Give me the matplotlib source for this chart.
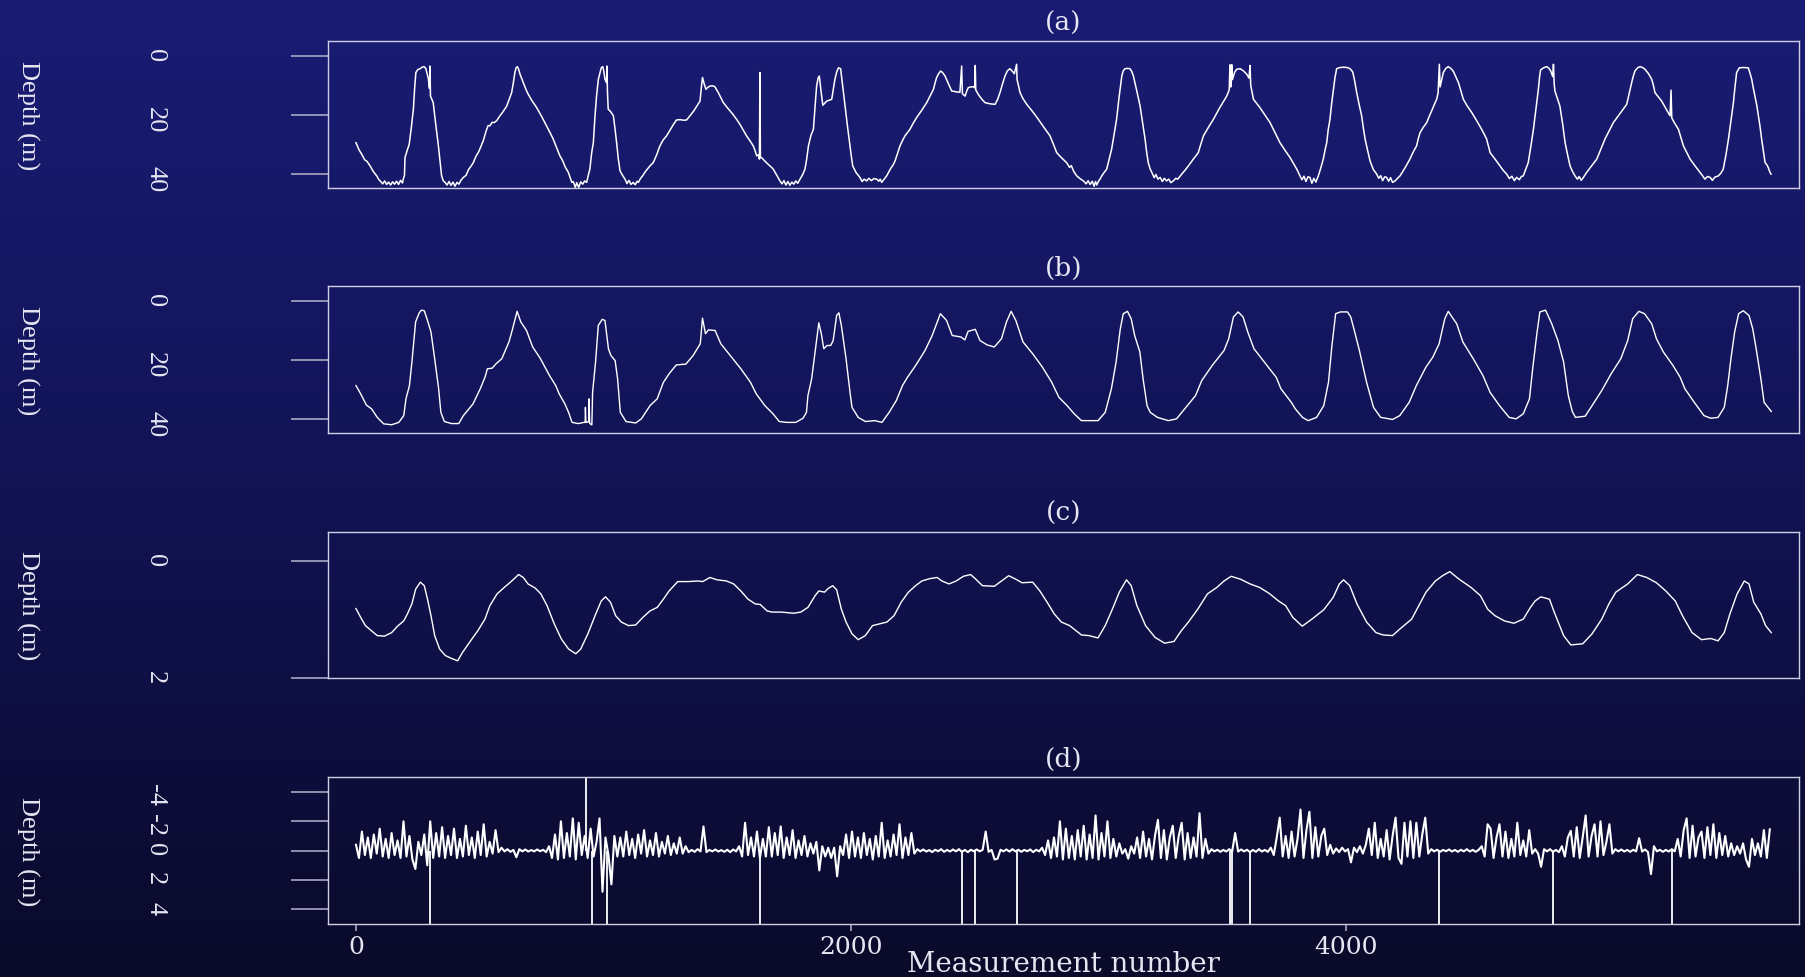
import numpy as np
import matplotlib.pyplot as plt
from matplotlib.colors import LinearSegmentedColormap

plt.rcParams['font.family'] = 'DejaVu Serif'

raw_pts = [
    (0, 29.4), (12, 31.8), (23, 33.3), (35, 35.2), (45, 35.8), (57, 37.3), (70, 39.2), (84, 40.7), (92, 41.9),
    (100, 42.6), (108, 43.4), (116, 42.4), (124, 43.6), (132, 42.8), (140, 43.8), (148, 42.7), (156, 43.5),
    (164, 42.5), (172, 43.6), (180, 42.2), (188, 43.1), (191, 41.8), (196, 40.5), (198, 34.5), (207, 32),
    (215, 30), (224, 24), (232, 18), (237, 11), (242, 5.6), (250, 4.6), (259, 4.3), (267, 3.8), (275, 3.6),
    (282, 4.2), (288, 6.2), (292, 7.5), (297, 11), (299, 3.4), (301, 13.6), (312, 15.8), (322, 23), (333, 30.5),
    (340, 36), (346, 40.7), (353, 42.4), (360, 42.9), (368, 43.8), (376, 42.6), (384, 43.9), (392, 42.8),
    (400, 44.2), (408, 42.9), (416, 43.5), (424, 42.2), (434, 41.2), (445, 40.5), (455, 38.5), (465, 37.4),
    (474, 36.2), (485, 34), (496, 32.5), (508, 30), (515, 28.6), (522, 26.5), (528, 24.9), (534, 23.6),
    (541, 23.7), (550, 22.5), (558, 22.6), (568, 22), (580, 20.5), (595, 18.8), (609, 17), (620, 14.5),
    (629, 12.4), (636, 9), (642, 5.6), (647, 4), (652, 3.6), (657, 4.5), (663, 6.2), (675, 8.8), (686, 11.2),
    (696, 13), (712, 15.3), (730, 17.5), (750, 20.5), (770, 23.7), (784, 26), (797, 28.2), (810, 31),
    (824, 33.9), (835, 35.5), (845, 37.6), (858, 39.5), (866, 41.5), (872, 42.9), (878, 42.6), (886, 44.6),
    (892, 43), (900, 44.6), (908, 42.7), (916, 43.5), (924, 42.4), (932, 42.9), (940, 40), (945, 38.4),
    (952, 33), (959, 29.4), (966, 20), (972, 13.6), (979, 8), (986, 5.6), (991, 4), (997, 3.6), (1001, 5),
    (1006, 7.9), (1012, 9), (1014, 3.4), (1016, 12), (1019, 18), (1030, 19), (1040, 20.3), (1047, 25),
    (1053, 29.4), (1060, 35), (1067, 39), (1077, 40.5), (1087, 41.8), (1095, 43.3), (1103, 42.2), (1111, 43.6),
    (1120, 42.9), (1128, 43.7), (1136, 42.5), (1141, 42.9), (1150, 41.5), (1158, 40.7), (1167, 39.5),
    (1178, 38.3), (1190, 37.1), (1201, 36.2), (1215, 33.5), (1228, 30.5), (1241, 28.5), (1255, 27.1),
    (1270, 25), (1282, 23.3), (1295, 21.7), (1310, 21.6), (1324, 21.8), (1336, 21.7), (1350, 20.2),
    (1365, 18.6), (1380, 16.6), (1390, 15.3), (1395, 11), (1400, 7.3), (1407, 9.5), (1414, 11.3), (1422, 10.6),
    (1430, 10.2), (1440, 10.1), (1450, 10.4), (1465, 12.6), (1484, 15.8), (1500, 17.5), (1520, 19.5),
    (1538, 21.5), (1552, 23.3), (1565, 25.2), (1578, 27.1), (1592, 28.8), (1605, 30.5), (1612, 32),
    (1619, 33.9), (1626, 33.5), (1630, 35), (1632, 5.6), (1634, 34.5), (1639, 34.5), (1650, 35.5),
    (1662, 36.5), (1675, 37.5), (1686, 38.4), (1700, 40.5), (1713, 42.4), (1721, 43.4), (1729, 42.3),
    (1737, 43.8), (1745, 42.6), (1753, 43.9), (1761, 42.8), (1769, 43.5), (1777, 42.4), (1785, 43.2),
    (1794, 41.8), (1805, 40.2), (1814, 38.4), (1821, 35), (1828, 30.5), (1838, 27), (1848, 24.9), (1855, 17),
    (1861, 10.2), (1867, 7.5), (1872, 6.8), (1879, 12), (1886, 16.7), (1894, 16), (1902, 15.3), (1912, 15),
    (1922, 14.7), (1928, 11.5), (1935, 7.9), (1942, 5.5), (1949, 4), (1958, 4.3), (1966, 10), (1976, 17),
    (1986, 24), (1996, 30.5), (2002, 34.5), (2007, 37.3), (2020, 39.5), (2036, 41.2), (2045, 42.6),
    (2053, 41.8), (2063, 42.4), (2072, 41.5), (2082, 42.3), (2093, 41.6), (2104, 41.8), (2112, 42.5),
    (2118, 41.8), (2124, 42.9), (2134, 41.8), (2144, 40.7), (2160, 38.2), (2170, 37), (2178, 35.6),
    (2188, 33), (2198, 30.5), (2208, 28.7), (2218, 27.1), (2228, 26), (2238, 24.9), (2250, 23), (2265, 20.9),
    (2285, 18.5), (2306, 15.8), (2320, 13.5), (2333, 11.3), (2340, 9), (2346, 7.3), (2354, 6), (2362, 5.1),
    (2370, 5.6), (2380, 6.8), (2394, 9.5), (2407, 11.9), (2417, 12), (2427, 12.2), (2440, 12.3), (2447, 3.4),
    (2450, 12.8), (2461, 13.6), (2467, 12), (2474, 10.7), (2484, 10.5), (2494, 10.4), (2500, 10.8),
    (2502, 3.2), (2504, 11.5), (2514, 13), (2528, 14.6), (2541, 15.8), (2560, 16.2), (2582, 16.4),
    (2592, 14.8), (2602, 12.4), (2612, 9.5), (2622, 6.8), (2632, 5), (2642, 4.3), (2650, 5), (2660, 6),
    (2669, 2.8), (2671, 8), (2683, 12.4), (2695, 14.5), (2710, 16.4), (2735, 19), (2757, 21.5), (2780, 24.3),
    (2804, 27.1), (2818, 30), (2831, 32.8), (2850, 34.5), (2871, 36.2), (2883, 37.8), (2890, 37.2),
    (2900, 39.2), (2912, 40.7), (2925, 41.6), (2939, 42.4), (2950, 43.4), (2958, 42.3), (2966, 43.6),
    (2975, 42.5), (2982, 44.2), (2988, 42.6), (2993, 43.8), (3000, 42.5), (3008, 41.5), (3013, 40.7),
    (3023, 39.5), (3033, 38.4), (3043, 35), (3053, 31.6), (3063, 26.5), (3073, 21.5), (3083, 14), (3094, 6.8),
    (3100, 5), (3107, 4.3), (3117, 4.2), (3127, 4.3), (3134, 5.2), (3141, 6.8), (3155, 12), (3168, 17),
    (3178, 22.5), (3188, 28.2), (3195, 33), (3201, 36.2), (3208, 38.2), (3215, 39.5), (3225, 41.3),
    (3232, 40.2), (3240, 41.8), (3249, 41.2), (3258, 42.6), (3266, 41.5), (3275, 42.4), (3284, 41.8),
    (3292, 43), (3302, 42.4), (3312, 41.5), (3320, 41.8), (3336, 40.1), (3350, 38.7), (3363, 37.3),
    (3383, 35), (3403, 32.8), (3413, 30), (3424, 27.1), (3444, 24.2), (3464, 21.5), (3490, 17.5),
    (3518, 13.6), (3528, 11.5), (3531, 3), (3534, 10.5), (3536, 9.8), (3538, 2.9), (3541, 8), (3550, 5.5),
    (3558, 4.5), (3572, 4.3), (3585, 5), (3599, 6.2), (3608, 7.5), (3612, 3.2), (3615, 10), (3626, 14.7),
    (3640, 16.2), (3652, 17.5), (3672, 20), (3693, 22.6), (3713, 26), (3733, 29.4), (3755, 32.2),
    (3774, 34.5), (3788, 36.5), (3801, 38.4), (3814, 40.7), (3822, 42), (3830, 40.8), (3838, 42.6),
    (3846, 41), (3854, 41.2), (3862, 43.2), (3870, 41.5), (3878, 42.8), (3888, 40.7), (3898, 38), (3908, 35),
    (3915, 32), (3922, 29.4), (3928, 25), (3935, 21.5), (3942, 16), (3949, 11.3), (3955, 7.5), (3962, 4.3),
    (3975, 3.9), (3990, 3.8), (4005, 3.9), (4016, 4.3), (4027, 5.4), (4035, 8.5), (4043, 12.4), (4053, 16.5),
    (4063, 20.3), (4070, 24.5), (4077, 28.2), (4087, 32), (4097, 35.6), (4110, 38.5), (4124, 40.1),
    (4132, 41.5), (4140, 40.6), (4148, 42.3), (4156, 41), (4164, 41.2), (4172, 42.5), (4180, 41.3),
    (4188, 42.9), (4198, 42.4), (4208, 41.5), (4218, 40.7), (4238, 38), (4258, 35), (4270, 32.8),
    (4285, 30.5), (4292, 28), (4299, 26), (4312, 24.2), (4326, 22.6), (4336, 20.5), (4346, 18.6),
    (4356, 16.6), (4366, 14.7), (4372, 12.5), (4377, 2.8), (4380, 10.5), (4393, 5.6), (4403, 4.2),
    (4413, 3.6), (4423, 4.2), (4433, 5.1), (4443, 7), (4454, 9), (4464, 11.8), (4474, 14.7), (4490, 17),
    (4508, 19.2), (4528, 22), (4548, 24.9), (4558, 26.5), (4568, 28.2), (4575, 30.5), (4582, 32.8),
    (4602, 35), (4622, 37.3), (4635, 38.8), (4649, 40.1), (4660, 41.6), (4670, 40.8), (4680, 42.3),
    (4689, 41.2), (4700, 42), (4708, 40.9), (4716, 40.7), (4726, 38.5), (4736, 36.2), (4747, 30.5),
    (4757, 24.9), (4767, 18), (4777, 11.3), (4782, 7), (4786, 4.7), (4798, 4), (4811, 3.6), (4820, 4.2),
    (4827, 5.1), (4835, 7), (4838, 2.8), (4841, 9.5), (4844, 11.9), (4854, 14.5), (4864, 17), (4875, 23),
    (4885, 29.4), (4895, 33.5), (4905, 37.3), (4915, 39.2), (4925, 40.7), (4935, 41.8), (4942, 40.9),
    (4950, 42.2), (4959, 41.2), (4966, 40.3), (4972, 39.5), (4992, 37.3), (5013, 35), (5030, 31.5),
    (5046, 28.2), (5063, 25.4), (5080, 22.6), (5107, 19.5), (5134, 16.4), (5144, 12.7), (5154, 9), (5160, 7),
    (5167, 5.1), (5178, 4), (5188, 3.6), (5198, 3.9), (5208, 4.5), (5222, 6), (5235, 7.9), (5242, 10),
    (5248, 12.4), (5262, 13.9), (5275, 15.3), (5292, 17.8), (5309, 20.3), (5313, 11.6), (5316, 21),
    (5326, 22.6), (5343, 24.9), (5353, 27.7), (5363, 30.5), (5377, 32.8), (5390, 35), (5410, 37.3),
    (5430, 39.5), (5440, 40.6), (5450, 41.8), (5460, 40.9), (5471, 41.2), (5480, 42.2), (5490, 41.1),
    (5504, 40.7), (5514, 39.8), (5524, 38.4), (5535, 33.5), (5545, 28.2), (5555, 22), (5565, 15.8),
    (5572, 10), (5578, 5.6), (5589, 4), (5605, 3.9), (5625, 4), (5632, 5.8), (5639, 7.9), (5645, 10.7),
    (5652, 13.6), (5660, 17), (5666, 20.3), (5673, 24.2), (5679, 28.2), (5686, 32.2), (5693, 36.2),
    (5700, 36.9), (5706, 37.9), (5712, 39.3), (5717, 40.1),
]

# === (b) smoothed depth ===
smooth_pts = [
    (0, 28.7), (19, 31.5), (42, 35.3), (63, 36.6), (86, 39.5), (112, 41.7), (144, 42), (173, 41.2), (193, 38.9),
    (202, 33.2), (216, 28.7), (226, 20.7), (241, 7.1), (255, 4.1), (264, 3.1), (276, 3.3), (289, 6.6),
    (303, 10.5), (318, 19.6), (334, 29.8), (343, 37.8), (357, 40.9), (386, 41.6), (415, 41.6), (434, 38.9),
    (473, 34.9), (502, 29.8), (521, 25.9), (531, 23), (550, 22.8), (566, 21.3), (589, 19.6), (618, 13.9),
    (631, 10), (651, 3.5), (666, 7.1), (689, 10), (714, 15.6), (744, 19.4), (782, 25.3), (807, 28.7),
    (821, 31.5), (844, 34.9), (859, 37.8), (873, 41.2), (898, 41.6), (921, 41.2), (926, 41.2), (927, 36.1),
    (929, 41.2), (940, 41), (942, 33.2), (944, 41.5), (951, 42), (953, 42), (956, 31), (968, 20.7), (979, 8.3),
    (995, 6.2), (1006, 6.6), (1020, 16.2), (1030, 18.5), (1047, 20.2), (1057, 26.4), (1068, 37.8),
    (1091, 40.9), (1130, 41.4), (1153, 40), (1188, 35.5), (1217, 33.2), (1242, 27.6), (1265, 24.7),
    (1294, 21.7), (1333, 21.4), (1362, 18.5), (1391, 14.5), (1400, 5.8), (1412, 11.1), (1424, 9.8),
    (1451, 10), (1474, 14.5), (1517, 19), (1555, 23), (1594, 27.6), (1617, 31.5), (1652, 35.5), (1685, 38.3),
    (1710, 40.9), (1739, 41.2), (1777, 41.2), (1806, 39.8), (1820, 37.8), (1826, 32.1), (1841, 26.4),
    (1855, 17.3), (1870, 7.4), (1880, 11.1), (1890, 16.2), (1903, 15.1), (1918, 15.1), (1928, 13.4),
    (1942, 4.9), (1951, 4), (1961, 8.3), (1980, 19.6), (1996, 31), (2004, 36.1), (2029, 39.5), (2058, 40.9),
    (2096, 40.6), (2125, 41.2), (2154, 37.8), (2183, 33.8), (2208, 28.7), (2228, 25.9), (2261, 21.9),
    (2299, 16.8), (2328, 11.7), (2361, 4.3), (2386, 6.6), (2409, 11.7), (2444, 12.2), (2460, 13.2),
    (2473, 10.3), (2502, 9.6), (2521, 13.4), (2550, 14.9), (2579, 15.6), (2608, 12.8), (2628, 7.1),
    (2647, 3.5), (2666, 6.6), (2695, 13.9), (2734, 17.9), (2773, 22.4), (2811, 27.6), (2840, 32.7),
    (2873, 35.5), (2902, 38.3), (2931, 40.6), (2998, 40.6), (3027, 37.8), (3052, 29.8), (3071, 20.7),
    (3088, 9.4), (3100, 4.3), (3117, 3.5), (3132, 6), (3146, 11.7), (3167, 17.3), (3180, 26.4), (3196, 35.5),
    (3209, 37.8), (3238, 39.5), (3282, 40.6), (3315, 40), (3353, 36.1), (3392, 32.1), (3417, 27),
    (3459, 21.9), (3507, 16.8), (3526, 12.8), (3545, 5.4), (3564, 3.7), (3584, 5.4), (3603, 10.5),
    (3628, 16.2), (3670, 20.7), (3718, 25.9), (3737, 29.8), (3779, 34.4), (3795, 36.6), (3824, 39.5),
    (3847, 40.6), (3881, 39.5), (3910, 35.5), (3929, 27.6), (3943, 15.1), (3958, 4.3), (3977, 3.7),
    (4006, 3.7), (4019, 5.4), (4035, 10.5), (4054, 16.8), (4083, 27.6), (4111, 36.1), (4140, 39.5),
    (4188, 40.2), (4217, 38.9), (4255, 34.4), (4284, 28.7), (4323, 22.4), (4351, 19), (4376, 14.5),
    (4399, 6), (4413, 3.5), (4428, 5.4), (4447, 7.7), (4472, 13.9), (4514, 19.6), (4553, 25.3), (4582, 31),
    (4620, 35.5), (4659, 39.5), (4687, 40), (4716, 38.3), (4741, 33.2), (4754, 23), (4770, 11.7),
    (4783, 3.7), (4806, 3.1), (4831, 7.7), (4856, 13.4), (4879, 20.7), (4898, 32.1), (4914, 37.5),
    (4927, 39.5), (4966, 39.1), (4994, 35.5), (5033, 30.4), (5071, 24.7), (5110, 19.6), (5138, 13.4),
    (5158, 6), (5183, 3.5), (5206, 4.3), (5235, 7.7), (5254, 12.8), (5282, 17.3), (5321, 21.9), (5350, 25.9),
    (5369, 29.8), (5407, 34.4), (5446, 38.9), (5474, 39.8), (5503, 39.5), (5528, 36.1), (5542, 28.7),
    (5555, 19.6), (5570, 10.5), (5586, 4.3), (5605, 3.3), (5628, 4.9), (5643, 9.4), (5657, 16.2),
    (5676, 26.4), (5689, 34.4), (5705, 36.1), (5718, 37.5),
]

# === (c) low-frequency component ===
low_pts = [
    (0, 0.81), (19, 0.96), (38, 1.10), (63, 1.19), (86, 1.27), (115, 1.28), (144, 1.22), (168, 1.11),
    (193, 1.02), (208, 0.90), (226, 0.73), (241, 0.48), (260, 0.36), (276, 0.42), (289, 0.65), (303, 0.93),
    (318, 1.27), (338, 1.50), (361, 1.61), (386, 1.66), (411, 1.70), (430, 1.56), (463, 1.36), (492, 1.19),
    (521, 0.99), (541, 0.76), (570, 0.56), (599, 0.45), (624, 0.36), (637, 0.31), (657, 0.23), (676, 0.28),
    (695, 0.39), (724, 0.46), (747, 0.56), (772, 0.76), (801, 1.07), (830, 1.33), (859, 1.50), (888, 1.58),
    (908, 1.50), (937, 1.24), (966, 0.93), (991, 0.68), (1008, 0.61), (1028, 0.70), (1049, 0.93),
    (1072, 1.04), (1101, 1.10), (1130, 1.09), (1159, 0.96), (1188, 0.85), (1217, 0.79), (1242, 0.65),
    (1265, 0.51), (1300, 0.35), (1343, 0.35), (1381, 0.34), (1401, 0.35), (1430, 0.28), (1459, 0.32),
    (1497, 0.34), (1526, 0.39), (1555, 0.51), (1584, 0.65), (1613, 0.73), (1633, 0.74), (1661, 0.85),
    (1681, 0.87), (1719, 0.87), (1768, 0.89), (1797, 0.87), (1826, 0.79), (1855, 0.59), (1870, 0.51),
    (1893, 0.53), (1907, 0.47), (1926, 0.42), (1942, 0.49), (1961, 0.82), (1980, 1.04), (2004, 1.24),
    (2029, 1.34), (2058, 1.27), (2087, 1.10), (2116, 1.07), (2145, 1.04), (2174, 0.93), (2203, 0.70),
    (2232, 0.53), (2261, 0.42), (2286, 0.34), (2318, 0.30), (2348, 0.28), (2367, 0.34), (2396, 0.39),
    (2425, 0.34), (2454, 0.26), (2483, 0.23), (2502, 0.30), (2531, 0.42), (2579, 0.43), (2608, 0.34),
    (2637, 0.25), (2666, 0.31), (2691, 0.37), (2734, 0.36), (2763, 0.51), (2792, 0.70), (2821, 0.90),
    (2850, 1.04), (2883, 1.10), (2931, 1.26), (2960, 1.27), (2998, 1.31), (3027, 1.10), (3056, 0.82),
    (3084, 0.53), (3113, 0.32), (3132, 0.42), (3155, 0.76), (3190, 1.10), (3228, 1.30), (3267, 1.40),
    (3305, 1.37), (3334, 1.19), (3363, 1.04), (3401, 0.82), (3440, 0.56), (3478, 0.45), (3507, 0.34),
    (3536, 0.26), (3574, 0.31), (3612, 0.39), (3651, 0.45), (3689, 0.55), (3727, 0.68), (3756, 0.76),
    (3785, 0.96), (3823, 1.11), (3862, 0.99), (3910, 0.83), (3948, 0.62), (3973, 0.39), (3990, 0.32),
    (4015, 0.42), (4044, 0.73), (4083, 1.04), (4121, 1.22), (4150, 1.26), (4188, 1.27), (4217, 1.16),
    (4265, 0.99), (4294, 0.76), (4323, 0.53), (4361, 0.34), (4390, 0.25), (4419, 0.18), (4457, 0.31),
    (4505, 0.45), (4543, 0.59), (4572, 0.82), (4601, 0.93), (4640, 1.02), (4678, 1.06), (4716, 0.99),
    (4745, 0.79), (4764, 0.68), (4787, 0.61), (4822, 0.65), (4841, 0.87), (4860, 1.07), (4879, 1.27),
    (4908, 1.43), (4956, 1.41), (4994, 1.24), (5033, 0.99), (5062, 0.73), (5090, 0.53), (5138, 0.39),
    (5177, 0.23), (5215, 0.28), (5254, 0.37), (5292, 0.51), (5330, 0.68), (5359, 0.93), (5398, 1.22),
    (5436, 1.34), (5474, 1.32), (5503, 1.36), (5528, 1.22), (5551, 0.90), (5580, 0.56), (5609, 0.34),
    (5628, 0.39), (5647, 0.70), (5676, 0.90), (5695, 1.10), (5718, 1.22),
]

# === (d) residuals, one value every resid_step measurements ===
resid_step = 12
resid_vals = [
    -0.4, 0.5, -1.3, 0.3, -0.9, 0.5, -1.1, 0.2, -1.5, 0.4,          # 0
    -0.8, 0.5, -1.2, 0.3, -0.7, 0.5, -2.0, 0.4, -1.0, 0.6,          # 120
    1.25, -0.6, 0.3, -1.1, 1.0, -2.0, 0.5, -1.2, 0.4, -1.6,         # 240
    0.5, -1.0, 0.3, -1.5, 0.5, -0.8, 0.4, -1.7, 0.3, -0.9,          # 360
    0.5, -1.3, 0.3, -1.8, 0.4, -0.6, 0.2, -1.4, 0.1, -0.2,          # 480
    0.05, -0.1, 0.08, -0.05, 0.45, -0.1, 0.05, -0.08, 0.06, -0.04,  # 600
    0.05, -0.08, 0.04, -0.06, 0.1, -0.3, 0.5, -1.1, 0.6, -2.0,      # 720
    0.5, -1.2, 0.4, -2.2, 0.6, -1.9, 0.3, -1.0, 0.5, -1.5,          # 840
    0.4, -0.6, -2.2, 2.8, -0.9, 0.3, 2.3, -1.0, 0.4, -0.9,          # 960
    0.4, -1.3, 0.3, -0.8, 0.5, -1.1, 0.2, -1.4, 0.4, -0.7,          # 1080
    0.3, -1.2, 0.4, -0.6, 0.2, -1.0, 0.3, -0.5, 0.2, -0.9,          # 1200
    0.2, -0.3, 0.1, -0.05, 0.08, -0.1, 0.05, -1.65, 0.1, -0.05,     # 1320
    0.05, -0.08, 0.06, -0.04, 0.08, -0.06, 0.1, -0.08, 0.05, -0.3,  # 1440
    0.4, -1.9, 0.3, -0.9, 0.4, -1.3, 0.5, -0.8, 0.4, -1.6,          # 1560
    0.4, -1.2, 0.3, -1.65, 0.5, -0.9, 0.3, -1.4, 0.5, -0.7,         # 1680
    0.3, -1.0, 0.4, -0.5, 0.2, -0.6, 1.35, -0.3, 0.4, -0.2,         # 1800
    0.5, -0.2, 1.75, -0.3, 0.3, -1.1, 0.5, -1.3, 0.4, -0.9,         # 1920
    0.5, -1.2, 0.3, -0.8, 0.6, -1.0, 0.4, -1.9, 0.5, -0.7,          # 2040
    0.4, -1.1, 0.3, -1.8, 0.5, -0.9, 0.3, -1.2, 0.2, -0.1,          # 2160
    0.05, -0.08, 0.06, -0.04, 0.1, -0.06, 0.04, -0.1, 0.08, -0.05,  # 2280
    0.06, -0.08, 0.05, -0.1, 0.08, -0.05, 0.1, -0.06, 0.04, -0.08,  # 2400
    0.05, -0.06, -1.3, 0.08, -0.05, 0.6, 0.55, -0.06, 0.05, -0.08,  # 2520
    0.06, -0.1, 0.05, -0.06, 0.08, -0.05, 0.04, -0.08, 0.1, -0.06,  # 2640
    0.05, -0.2, 0.3, -0.7, 0.5, -0.9, 0.4, -2.0, 0.6, -1.5,         # 2760
    0.5, -1.0, 0.6, -1.4, 0.4, -1.7, 0.6, -1.1, 0.5, -2.4,          # 2880
    0.6, -1.2, 0.4, -2.0, 0.5, -0.8, 0.4, -0.5, 0.2, -0.1,          # 3000
    0.55, -0.3, 0.2, -0.9, 0.5, -1.3, 0.4, -0.8, 0.6, -1.0,         # 3120
    -2.1, 0.5, -1.4, 0.6, -0.9, -1.7, 0.5, -1.0, -1.9, 0.6,         # 3240
    -1.2, 0.5, -0.9, 0.4, -2.55, 0.5, -0.8, 0.2, -0.1, 0.05,        # 3360
    -0.06, 0.08, -0.05, 0.06, -0.1, 0.05, -1.2, 0.06, -0.08, 0.05,  # 3480
    -0.06, 0.1, -0.05, 0.08, -0.1, 0.06, -0.05, 0.08, -0.2, 0.3,    # 3600
    -0.9, -2.25, 0.4, -1.0, 0.5, -1.3, 0.4, -0.8, -2.8, 0.5,        # 3720
    -1.4, -2.65, 0.5, -1.6, 0.4, -1.0, -1.5, 0.3, -0.4, 0.2,        # 3840
    -0.15, 0.1, -0.2, 0.05, -0.1, 0.8, -0.2, 0.1, -0.3, 0.2,        # 3960
    -0.4, -1.5, 0.3, -1.9, 0.5, -0.8, 0.4, -1.4, 0.6, -1.0,         # 4080
    -2.25, 0.5, 0.9, -1.9, 0.4, -2.0, 0.5, -1.9, 0.4, -1.1,         # 4200
    -2.25, 0.2, -0.1, 0.05, -0.06, 0.08, -0.05, 0.04, -0.08, 0.06,  # 4320
    -0.05, 0.08, -0.06, 0.05, -0.1, 0.06, -0.05, 0.08, -0.06, -0.3, # 4440
    0.4, -1.8, -1.5, 0.5, -0.9, -1.8, 0.4, -1.3, 0.5, -0.8,         # 4560
    0.4, -1.9, 0.3, -0.7, 0.4, -1.4, 0.2, -0.1, 0.2, 1.1,           # 4680
    -0.1, 0.05, -0.1, 0.08, -0.05, 0.1, -0.3, 0.4, -0.9, -1.35,     # 4800
    0.4, -1.6, 0.5, -0.9, -2.4, 0.4, -1.0, -1.8, 0.4, -2.0,         # 4920
    0.3, -0.6, -1.8, 0.2, -0.1, 0.05, -0.08, 0.06, -0.05, 0.08,     # 5040
    -0.06, 0.05, -0.85, 0.06, -0.08, 0.1, 1.6, -0.3, 0.05, -0.06,   # 5160
    0.08, -0.05, 0.06, -0.1, 0.05, -0.8, 0.4, -1.4, -2.2, 0.5,      # 5280
    -1.7, 0.4, -0.9, -1.3, 0.5, -1.6, 0.3, -1.8, 0.5, -1.2,         # 5400
    0.3, -1.0, 0.4, -0.5, 0.3, -0.3, 0.2, -0.5, 0.6, 1.1,           # 5520
    -0.8, 0.3, -0.5, 0.4, -1.4, 0.5, -1.45,                         # 5640
]
# large single-sample residuals (beyond the plotted range)
outlier_x = [299, 929, 952, 1016, 1632, 2450, 2501, 2669, 3531, 3538, 3612, 4377, 4838, 5316]
outlier_val = [6, -6, 6, 6, 6, 6, 6, 6, 6, 6, 6, 6, 6, 6]

panel_titles = ['(a)', '(b)', '(c)', '(d)']
ytick_sets = [[0, 20, 40], [0, 20, 40], [0, 2], [-4, -2, 0, 2, 4]]
ylims = [(44.8, -5.0), (44.8, -5.0), (2.0, -0.5), (5.0, -5.0)]
xticks = [0, 2000, 4000]

# === figure ===
W, H = 1805, 978
fig = plt.figure(figsize=(W / 100, H / 100), dpi=100)

bg = fig.add_axes([0, 0, 1, 1], zorder=-5)
cmap = LinearSegmentedColormap.from_list('bg', ['#1a1c74', '#141660', '#0f1046', '#0a0a2a'])
bg.imshow(np.linspace(0, 1, 256).reshape(-1, 1), aspect='auto', cmap=cmap,
          extent=[0, 1, 0, 1], origin='upper')
bg.axis('off')

txt = '#e6e6f2'
box = '#cfcfe4'
tickc = '#a8a8c4'

left, right = 328, 1799
tops = [42.3, 287.3, 532.7, 778.3]
ph = 146.7

axes = []
for i, top in enumerate(tops):
    ax = fig.add_axes([left / W, 1 - (top + ph) / H, (right - left) / W, ph / H])
    ax.set_facecolor('none')
    for s in ax.spines.values():
        s.set_color(box)
        s.set_linewidth(1.0)
    ax.set_xlim(-113, 5830)
    ax.set_ylim(*ylims[i])
    ax.set_yticks(ytick_sets[i], [str(t) for t in ytick_sets[i]])
    ax.tick_params(axis='y', direction='out', length=26.6, width=1.2, color=tickc,
                   pad=90, labelsize=19, labelcolor=txt, labelrotation=270)
    for lab in ax.get_yticklabels():
        lab.set_fontfamily('Liberation Serif')
    ax.set_ylabel('Depth (m)', rotation=270, fontsize=19, color=txt,
                  family='Liberation Serif', va='center', ha='center')
    ax.yaxis.set_label_coords((28 - left) / (right - left), 0.5)
    ax.text(0.5, 1 + 19 / ph, panel_titles[i], transform=ax.transAxes,
            ha='center', va='center', fontsize=19, color=txt)
    if i < 3:
        ax.set_xticks([])
    axes.append(ax)

ax_a, ax_b, ax_c, ax_d = axes
ax_a.plot([p[0] for p in raw_pts], [p[1] for p in raw_pts], color='white', lw=1.1)
ax_b.plot([p[0] for p in smooth_pts], [p[1] for p in smooth_pts], color='white', lw=1.0)
ax_c.plot([p[0] for p in low_pts], [p[1] for p in low_pts], color='white', lw=1.0)

resid_x = np.arange(len(resid_vals)) * resid_step
ax_d.plot(resid_x, resid_vals, color='white', lw=1.5)
ax_d.vlines(outlier_x, 0, outlier_val, colors='white', lw=1.3)

ax_d.set_xticks(xticks, [str(t) for t in xticks])
ax_d.tick_params(axis='x', direction='out', length=5, width=1.2, color=tickc,
                 pad=3, labelsize=18, labelcolor=txt)
ax_d.set_xlabel('Measurement number', fontsize=20, color=txt, va='center')
ax_d.xaxis.set_label_coords(0.5, -(965 - 925) / ph)

fig.savefig('out.png', dpi=100, facecolor=fig.get_facecolor())
